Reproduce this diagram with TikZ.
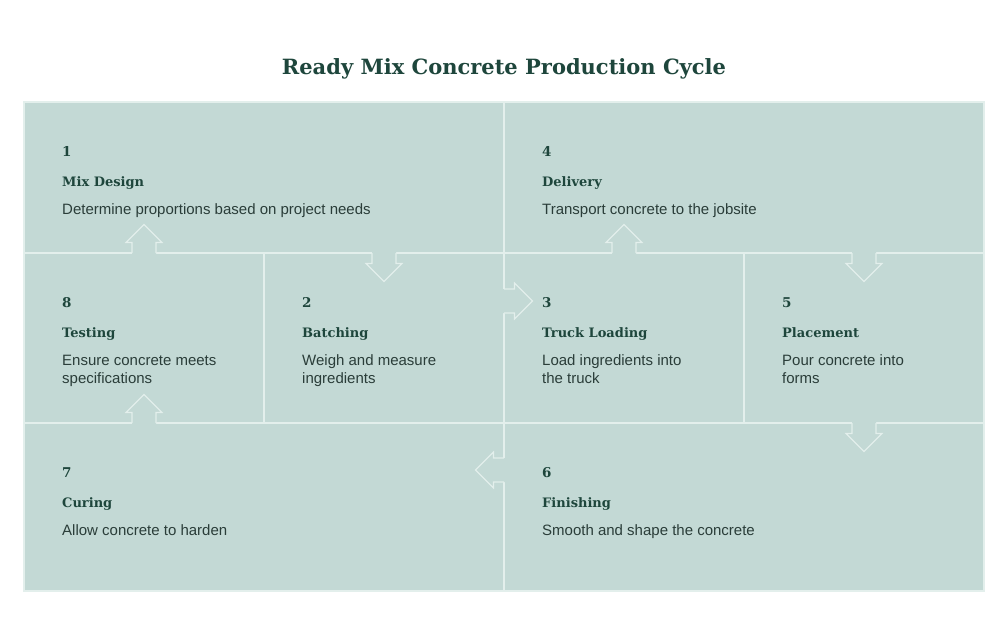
\documentclass[tikz,border=0pt]{standalone}
\usepackage{fontspec}
\setmainfont{Liberation Sans}
\newfontfamily\slabfont{DejaVu Serif}
\usetikzlibrary{calc, positioning}

\definecolor{cellfill}{HTML}{C3D9D5}
\definecolor{gridline}{HTML}{E3EFEC}
\definecolor{darkgreen}{HTML}{1E463C}
\definecolor{bodytext}{HTML}{2A3D39}

\tikzset{
  cell/.style={draw=gridline, line width=1.2pt, fill=cellfill, anchor=north west, inner sep=0pt, outer sep=0pt},
  stepnum/.style={anchor=base west, inner sep=0pt, font=\slabfont\bfseries\fontsize{13.5}{15}\selectfont, text=darkgreen},
  steptitle/.style={anchor=base west, inner sep=0pt, font=\slabfont\bfseries\fontsize{13}{15}\selectfont, text=darkgreen},
  stepdesc/.style={anchor=base west, inner sep=0pt, font=\fontsize{15}{18}\selectfont, text=bodytext},
  notchline/.style={draw=gridline, line width=1.2pt}
}

% Arrow notch cut into a border: #1 = base point, #2 = angle (0 = up)
\newcommand\notch[2]{%
  \begin{scope}[shift={(#1)}, rotate=#2]
    \fill[cellfill] (-12,1) -- (-12,-10.5) -- (-18,-10.5) -- (0,-28.5) -- (18,-10.5) -- (12,-10.5) -- (12,1) -- cycle;
    \draw[notchline] (-12,0) -- (-12,-10.5) -- (-18,-10.5) -- (0,-28.5) -- (18,-10.5) -- (12,-10.5) -- (12,0);
  \end{scope}}

% Number, title and text of one step (text lines hang from the first baseline)
\newcommand\steptext[3]{%
  \node[stepnum] (n#1) at ($(c#1.north west)+(38,54)$) {#1};
  \node[steptitle] (t#1) at ($(n#1.base west)+(0,30)$) {#2};
  \node[stepdesc] (d#1) at ($(t#1.base west)+(0,28)$) {\begin{tabular}[t]{@{}l@{}}#3\end{tabular}};}

\begin{document}
\begin{tikzpicture}[x=1pt, y=-1pt]
    \useasboundingbox[fill=white] (0,0) rectangle (1008,640);

    % Title
    \node[anchor=base, font=\slabfont\bfseries\fontsize{21}{25}\selectfont, text=darkgreen] (title) at (504,74) {Ready Mix Concrete Production Cycle};

    % Top row
    \node[cell, minimum width=480pt, minimum height=151pt] (c1) at (24,102) {};
    \node[cell, minimum width=480pt, minimum height=151pt] (c4) at (504,102) {};

    % Middle row
    \node[cell, minimum width=240pt, minimum height=170pt] (c8) at (24,253) {};
    \node[cell, minimum width=240pt, minimum height=170pt] (c2) at (264,253) {};
    \node[cell, minimum width=240pt, minimum height=170pt] (c3) at (504,253) {};
    \node[cell, minimum width=240pt, minimum height=170pt] (c5) at (744,253) {};

    % Bottom row
    \node[cell, minimum width=480pt, minimum height=168pt] (c7) at (24,423) {};
    \node[cell, minimum width=480pt, minimum height=168pt] (c6) at (504,423) {};

    % Arrows between the steps
    \notch{c8.north}{0}
    \notch{c2.north}{180}
    \notch{$(c3.north west)+(0,48)$}{-90}
    \notch{c3.north}{0}
    \notch{c5.north}{180}
    \notch{c5.south}{180}
    \notch{$(c6.north west)+(0,47)$}{90}
    \notch{c8.south}{0}

    % Step texts
    \steptext{1}{Mix Design}{Determine proportions based on project needs}
    \steptext{2}{Batching}{Weigh and measure\\ingredients}
    \steptext{3}{Truck Loading}{Load ingredients into\\the truck}
    \steptext{4}{Delivery}{Transport concrete to the jobsite}
    \steptext{5}{Placement}{Pour concrete into\\forms}
    \steptext{6}{Finishing}{Smooth and shape the concrete}
    \steptext{7}{Curing}{Allow concrete to harden}
    \steptext{8}{Testing}{Ensure concrete meets\\specifications}
\end{tikzpicture}
\end{document}
